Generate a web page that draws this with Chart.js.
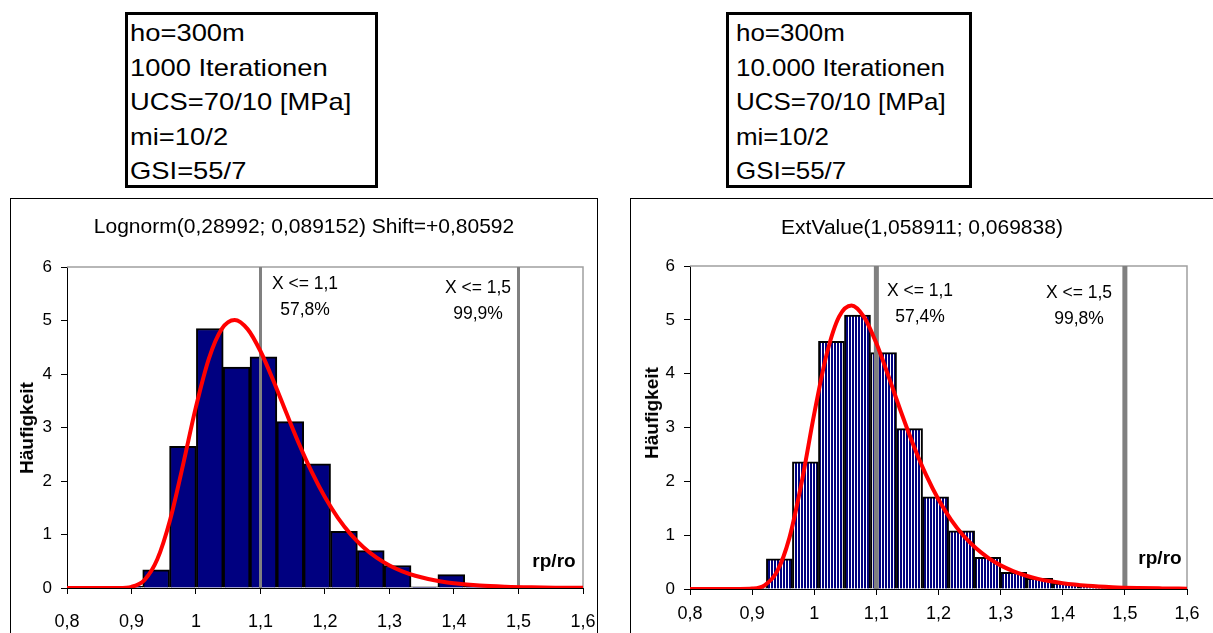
<!DOCTYPE html>
<html lang="de">
<head>
<meta charset="utf-8">
<title>rp/ro Histogramme</title>
<script src="https://cdn.jsdelivr.net/npm/chart.js@4.4.0/dist/chart.umd.min.js"></script>
<style>
  body { margin: 0; width: 1213px; height: 633px; overflow: hidden; background: #fff; position: relative;
         font-family: Arial, "Liberation Sans", sans-serif; color: #000; }
  .infobox { position: absolute; top: 12px; height: 176px; box-sizing: border-box; border: 3px solid #000;
             padding-top: 1px; font-size: 24px; line-height: 34.6px; white-space: nowrap; }
  .infobox .txt { transform-origin: 0 0; }
  .frame { position: absolute; top: 198px; height: 500px; box-sizing: border-box; border: 1px solid #000; }
  canvas { position: absolute; }
  .lbl { position: absolute; transform: translate(-50%, -50%); white-space: nowrap; text-align: center; }
  .title { font-size: 21px; }
  .note { font-size: 17.5px; line-height: 26px; }
  .axis { font-size: 19px; font-weight: bold; }
  .vert { transform: translate(-50%, -50%) rotate(-90deg); }
</style>
</head>
<body>

<div class="infobox" style="left:125px; width:253px; padding-left:2px;">
  <div class="txt" style="transform:scaleX(1.14);">ho=300m<br>1000 Iterationen<br>UCS=70/10 [MPa]<br>mi=10/2<br>GSI=55/7</div>
</div>
<div class="infobox" style="left:726px; width:246px; padding-left:7px;">
  <div class="txt" style="transform:scaleX(1.08);">ho=300m<br>10.000 Iterationen<br>UCS=70/10 [MPa]<br>mi=10/2<br>GSI=55/7</div>
</div>

<!-- linkes Diagramm (1000 Iterationen) -->
<div class="frame" style="left:10px; width:588px;"></div>
<canvas id="chartLeft" width="586" height="435" style="left:11px; top:198px;"></canvas>
<div class="lbl title" style="left:304px; top:226px;">Lognorm(0,28992; 0,089152) Shift=+0,80592</div>
<div class="lbl note" style="left:305px; top:296px;">X &lt;= 1,1<br>57,8%</div>
<div class="lbl note" style="left:478px; top:300px;">X &lt;= 1,5<br>99,9%</div>
<div class="lbl axis" style="left:554px; top:561px;">rp/ro</div>
<div class="lbl axis vert" style="left:27px; top:428px;">Häufigkeit</div>

<!-- rechtes Diagramm (10.000 Iterationen) -->
<div class="frame" style="left:630px; width:700px;"></div>
<canvas id="chartRight" width="583" height="435" style="left:630px; top:198px;"></canvas>
<div class="lbl title" style="left:922px; top:227px;">ExtValue(1,058911; 0,069838)</div>
<div class="lbl note" style="left:920px; top:303px;">X &lt;= 1,1<br>57,4%</div>
<div class="lbl note" style="left:1079px; top:305px;">X &lt;= 1,5<br>99,8%</div>
<div class="lbl axis" style="left:1160px; top:558px;">rp/ro</div>
<div class="lbl axis vert" style="left:652px; top:413px;">Häufigkeit</div>

<script>
// ----- Daten -----

// Klassenmitten und Häufigkeiten, 1000 Iterationen
const leftBinCenters = [0.8966, 0.9382, 0.9798, 1.0214, 1.0630, 1.1046, 1.1462, 1.1878,
                        1.2294, 1.2710, 1.3126, 1.3542, 1.3958, 1.4374, 1.4790, 1.5206];
const leftBinValues  = [0.03, 0.34, 2.65, 4.85, 4.13, 4.32, 3.11, 2.32,
                        1.06, 0.70, 0.42, 0.02, 0.25, 0.03, 0.00, 0.02];

// Klassenmitten und Häufigkeiten, 10.000 Iterationen
const rightBinCenters = [0.9020, 0.9439, 0.9858, 1.0277, 1.0696, 1.1115, 1.1534, 1.1953,
                         1.2372, 1.2791, 1.3210, 1.3629, 1.4048, 1.4467, 1.4886, 1.5305];
const rightBinValues  = [0.02, 0.56, 2.36, 4.60, 5.09, 4.39, 2.98, 1.71,
                         1.08, 0.59, 0.31, 0.20, 0.11, 0.06, 0.03, 0.02];

// angepasste Dichtekurven (rot)
const curveX = [0.80, 0.84, 0.88, 0.90, 0.92, 0.94, 0.96, 0.98, 1.00, 1.02, 1.04, 1.06, 1.08,
                1.10, 1.12, 1.14, 1.16, 1.18, 1.20, 1.22, 1.24, 1.26, 1.28, 1.30, 1.32, 1.34,
                1.36, 1.38, 1.40, 1.44, 1.48, 1.52, 1.56, 1.60];
const leftCurveY = [0, 0, 0.001, 0.022, 0.149, 0.536, 1.281, 2.307, 3.390, 4.289, 4.844, 5.011, 4.839,
                    4.425, 3.874, 3.274, 2.687, 2.155, 1.695, 1.312, 1.003, 0.758, 0.568, 0.422, 0.312, 0.229,
                    0.168, 0.122, 0.089, 0.046, 0.024, 0.012, 0.006, 0.003];
const rightCurveY = [0, 0, 0.0004, 0.008, 0.069, 0.322, 0.950, 1.997, 3.256, 4.363, 5.060, 5.267, 5.055,
                     4.564, 3.935, 3.278, 2.662, 2.119, 1.662, 1.290, 0.993, 0.760, 0.579, 0.439, 0.333, 0.251,
                     0.189, 0.143, 0.107, 0.061, 0.034, 0.019, 0.011, 0.006];

// Grenzwerte (graue senkrechte Linien)
const markerX = [1.1, 1.5];

// Achsen
const xMin = 0.8, xMax = 1.6, xStep = 0.1;
const yMin = 0, yMax = 6, yStep = 1;


// ----- Hilfsfunktionen -----

// Rahmen des Plotbereichs oben und rechts (grau)
const plotFrame = {
    id: 'plotFrame',
    beforeDatasetsDraw(chart) {
        const { ctx, chartArea: a } = chart;
        ctx.save();
        ctx.strokeStyle = '#a0a0a0';
        ctx.lineWidth = 1.5;
        ctx.beginPath();
        ctx.moveTo(a.left, a.top);
        ctx.lineTo(a.right, a.top);
        ctx.lineTo(a.right, a.bottom);
        ctx.stroke();
        ctx.restore();
    }
};

// senkrecht gestreifte Füllung für das rechte Histogramm
function stripePattern() {
    const c = document.createElement('canvas');
    c.width = 3;
    c.height = 1;
    const g = c.getContext('2d');
    g.fillStyle = '#000080';
    g.fillRect(0, 0, 2, 1);
    g.fillStyle = '#ffffff';
    g.fillRect(2, 0, 1, 1);
    return g.createPattern(c, 'repeat');
}

function drawHistogram(canvas, s) {
    const bars = s.centers.map((x, i) => ({ x: x, y: s.values[i] }));
    const curve = curveX.map((x, i) => ({ x: x, y: s.curve[i] }));

    const markerSets = markerX.map(m => ({
        type: 'line',
        data: [{ x: m, y: yMin }, { x: m, y: yMax }],
        borderColor: '#808080',
        borderWidth: s.markerWidth,
        pointRadius: 0,
        order: 1
    }));

    return new Chart(canvas, {
        type: 'bar',
        data: {
            datasets: [
                {
                    type: 'line',
                    data: curve,
                    borderColor: '#ff0000',
                    borderWidth: 4,
                    pointRadius: 0,
                    cubicInterpolationMode: 'monotone',
                    order: 0
                },
                ...markerSets,
                {
                    type: 'bar',
                    data: bars,
                    backgroundColor: s.fill,
                    borderColor: '#000000',
                    borderWidth: 2,
                    barPercentage: 1,
                    categoryPercentage: 1,
                    order: 2
                }
            ]
        },
        options: {
            responsive: false,
            animation: false,
            events: [],
            layout: { padding: { top: s.padTop, right: s.padRight, left: 0, bottom: 0 } },
            plugins: { legend: { display: false }, tooltip: { enabled: false }, title: { display: false } },
            scales: {
                x: {
                    type: 'linear',
                    min: xMin,
                    max: xMax,
                    offset: false,
                    afterFit: scale => {
                        // Höhe fest, Beschriftung am Rand soll die Fläche nicht verkleinern
                        scale.height = s.xAxisHeight;
                        scale.paddingLeft = 0;
                        scale.paddingRight = 0;
                    },
                    border: { color: '#000', width: 1 },
                    grid: { offset: false, drawOnChartArea: false, drawTicks: true, tickLength: 6, color: '#000' },
                    ticks: {
                        stepSize: xStep,
                        color: '#000',
                        padding: s.xPad,
                        maxRotation: 0,
                        font: { family: 'Arial, "Liberation Sans", sans-serif', size: 18 },
                        callback: v => String(Math.round(v * 10) / 10).replace('.', ',')
                    }
                },
                y: {
                    min: yMin,
                    max: yMax,
                    afterFit: scale => { scale.width = s.yAxisWidth; },
                    border: { color: '#000', width: 1 },
                    grid: { drawOnChartArea: false, drawTicks: true, tickLength: 6, color: '#000' },
                    ticks: {
                        stepSize: yStep,
                        color: '#000',
                        padding: 9,
                        font: { family: 'Arial, "Liberation Sans", sans-serif', size: 17 }
                    }
                }
            }
        },
        plugins: [plotFrame]
    });
}

// ----- Diagramme zeichnen -----

drawHistogram(document.getElementById('chartLeft'), {
    centers: leftBinCenters,
    values: leftBinValues,
    curve: leftCurveY,
    fill: '#000080',
    markerWidth: 3,
    padTop: 69,
    padRight: 14,
    yAxisWidth: 56,
    xAxisHeight: 45,
    xPad: 17
});

drawHistogram(document.getElementById('chartRight'), {
    centers: rightBinCenters,
    values: rightBinValues,
    curve: rightCurveY,
    fill: stripePattern(),
    markerWidth: 5,
    padTop: 68,
    padRight: 26,
    yAxisWidth: 60,
    xAxisHeight: 44,
    xPad: 8
});
</script>
</body>
</html>
